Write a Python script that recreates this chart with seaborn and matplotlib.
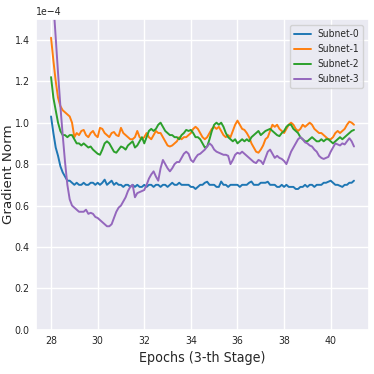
import numpy as np
import pandas as pd
import matplotlib
matplotlib.use("Agg")
import matplotlib.pyplot as plt
import seaborn as sns

epochs = np.round(np.arange(28.0, 41.0001, 0.1), 1)

subnet0 = [
    1.03, 0.95, 0.88, 0.84, 0.79, 0.76, 0.74, 0.72, 0.72, 0.71,
    0.70, 0.71, 0.70, 0.70, 0.71, 0.70, 0.70, 0.71, 0.71, 0.70,
    0.71, 0.70, 0.71, 0.725, 0.70, 0.71, 0.72, 0.70, 0.71, 0.70,
    0.70, 0.69, 0.70, 0.70, 0.69, 0.70, 0.69, 0.70, 0.69, 0.69,
    0.70, 0.69, 0.70, 0.70, 0.69, 0.70, 0.70, 0.69, 0.70, 0.70,
    0.69, 0.70, 0.71, 0.70, 0.70, 0.71, 0.70, 0.70, 0.70, 0.70,
    0.69, 0.69, 0.68, 0.69, 0.70, 0.70, 0.71, 0.715, 0.70, 0.70,
    0.70, 0.69, 0.69, 0.716, 0.70, 0.70, 0.69, 0.70, 0.70, 0.70,
    0.70, 0.69, 0.70, 0.70, 0.70, 0.71, 0.716, 0.70, 0.70, 0.70,
    0.71, 0.71, 0.71, 0.715, 0.70, 0.70, 0.70, 0.69, 0.69, 0.70,
    0.69, 0.70, 0.69, 0.69, 0.69, 0.68, 0.68, 0.69, 0.69, 0.70,
    0.69, 0.70, 0.70, 0.69, 0.70, 0.70, 0.70, 0.71, 0.71, 0.715,
    0.72, 0.71, 0.70, 0.70, 0.695, 0.69, 0.70, 0.70, 0.71, 0.71,
    0.72,
]

subnet1 = [
    1.41, 1.30, 1.20, 1.12, 1.08, 1.06, 1.05, 1.04, 1.03, 1.00,
    0.93, 0.95, 0.94, 0.96, 0.965, 0.94, 0.93, 0.95, 0.96, 0.94,
    0.93, 0.975, 0.97, 0.95, 0.94, 0.93, 0.95, 0.955, 0.94, 0.935,
    0.975, 0.95, 0.94, 0.93, 0.92, 0.92, 0.93, 0.96, 0.93, 0.92,
    0.93, 0.95, 0.93, 0.92, 0.94, 0.96, 0.95, 0.95, 0.93, 0.91,
    0.89, 0.885, 0.89, 0.90, 0.91, 0.93, 0.92, 0.93, 0.93, 0.94,
    0.95, 0.97, 0.98, 0.97, 0.95, 0.93, 0.92, 0.93, 0.95, 0.97,
    0.98, 0.97, 0.98, 0.96, 0.94, 0.93, 0.94, 0.93, 0.96, 0.99,
    1.01, 0.99, 0.97, 0.965, 0.95, 0.93, 0.90, 0.88, 0.86, 0.855,
    0.87, 0.89, 0.92, 0.93, 0.96, 0.99, 0.98, 0.99, 0.97, 0.96,
    0.95, 0.97, 0.99, 1.00, 0.99, 0.97, 0.96, 0.97, 0.99, 0.98,
    0.99, 1.00, 0.99, 0.97, 0.96, 0.95, 0.95, 0.94, 0.93, 0.92,
    0.92, 0.93, 0.95, 0.96, 0.95, 0.96, 0.97, 0.99, 1.005, 1.00,
    0.99,
]

subnet2 = [
    1.22, 1.12, 1.06, 1.00, 0.96, 0.94, 0.94, 0.93, 0.94, 0.94,
    0.92, 0.90, 0.90, 0.89, 0.90, 0.89, 0.88, 0.885, 0.87, 0.86,
    0.85, 0.845, 0.87, 0.90, 0.91, 0.90, 0.88, 0.86, 0.855, 0.87,
    0.885, 0.88, 0.87, 0.89, 0.90, 0.91, 0.88, 0.89, 0.91, 0.93,
    0.90, 0.93, 0.96, 0.97, 0.96, 0.97, 0.99, 1.00, 0.98, 0.96,
    0.95, 0.94, 0.94, 0.93, 0.93, 0.92, 0.94, 0.95, 0.965, 0.96,
    0.965, 0.95, 0.93, 0.93, 0.92, 0.90, 0.88, 0.885, 0.92, 0.96,
    0.99, 1.00, 0.99, 1.00, 0.98, 0.95, 0.93, 0.92, 0.91, 0.92,
    0.90, 0.91, 0.92, 0.91, 0.92, 0.91, 0.93, 0.94, 0.95, 0.96,
    0.94, 0.95, 0.96, 0.965, 0.97, 0.96, 0.95, 0.94, 0.935, 0.95,
    0.96, 0.98, 0.99, 0.99, 0.97, 0.96, 0.95, 0.93, 0.92, 0.91,
    0.91, 0.92, 0.93, 0.92, 0.91, 0.91, 0.92, 0.91, 0.92, 0.92,
    0.91, 0.90, 0.91, 0.92, 0.93, 0.92, 0.93, 0.94, 0.95, 0.96,
    0.965,
]

subnet3 = [
    1.75, 1.58, 1.41, 1.24, 1.08, 0.94, 0.81, 0.70, 0.63, 0.60,
    0.59, 0.58, 0.57, 0.57, 0.57, 0.58, 0.56, 0.565, 0.56, 0.545,
    0.54, 0.53, 0.52, 0.51, 0.50, 0.50, 0.51, 0.54, 0.57, 0.59,
    0.60, 0.62, 0.64, 0.67, 0.69, 0.70, 0.64, 0.66, 0.665, 0.67,
    0.675, 0.70, 0.73, 0.75, 0.765, 0.74, 0.72, 0.78, 0.82, 0.80,
    0.78, 0.765, 0.78, 0.80, 0.81, 0.81, 0.83, 0.85, 0.86, 0.85,
    0.82, 0.81, 0.83, 0.845, 0.85, 0.86, 0.87, 0.885, 0.90, 0.89,
    0.87, 0.86, 0.855, 0.85, 0.845, 0.845, 0.84, 0.80, 0.82, 0.845,
    0.855, 0.85, 0.86, 0.85, 0.84, 0.83, 0.82, 0.81, 0.805, 0.82,
    0.815, 0.80, 0.83, 0.86, 0.87, 0.85, 0.83, 0.84, 0.83, 0.825,
    0.815, 0.80, 0.83, 0.86, 0.88, 0.90, 0.92, 0.93, 0.92, 0.905,
    0.90, 0.89, 0.885, 0.87, 0.86, 0.84, 0.83, 0.825, 0.83, 0.835,
    0.86, 0.88, 0.90, 0.895, 0.89, 0.90, 0.895, 0.91, 0.925, 0.91,
    0.885,
]

series_names = ["Subnet-0", "Subnet-1", "Subnet-2", "Subnet-3"]
series_values = [subnet0, subnet1, subnet2, subnet3]
x_ticks = [28, 30, 32, 34, 36, 38, 40]

frames = []
for name, vals in zip(series_names, series_values):
    frames.append(pd.DataFrame({"epoch": epochs,
                                "norm": np.array(vals) * 1e-4,
                                "subnet": name}))
df = pd.concat(frames, ignore_index=True)

sns.set_theme(style="darkgrid")
plt.rcParams["font.family"] = ["DejaVu Sans"]

fig = plt.figure(figsize=(3.74, 3.74), dpi=100)
ax = fig.add_axes([0.096, 0.118, 0.891, 0.831])
sns.lineplot(data=df, x="epoch", y="norm", hue="subnet",
             palette=["#1f77b4", "#ff7f0e", "#2ca02c", "#9467bd"],
             linewidth=1.4, ax=ax)
ax.set_ylim(0, 1.5e-4)
ax.set_xticks(x_ticks)
ax.ticklabel_format(axis="y", style="sci", scilimits=(0, 0))
ax.set_xlabel("Epochs (3-th Stage)", fontsize=10.2, fontstretch="condensed")
ax.xaxis.set_label_coords(0.5, -0.068)
ax.set_ylabel("Gradient Norm", fontsize=9.6)
ax.yaxis.set_label_coords(-0.064, 0.5)
ax.tick_params(length=0, pad=4.5)
for lab in ax.get_xticklabels() + ax.get_yticklabels():
    lab.set_fontstretch("condensed")
    lab.set_fontsize(7.6)
fig.canvas.draw()
ax.yaxis.get_offset_text().set_fontsize(7.6)
ax.yaxis.get_offset_text().set_fontstretch("condensed")
leg = ax.legend(loc="upper right", prop={"size": 7.3, "stretch": "condensed"},
                frameon=True, handlelength=1.7, labelspacing=0.5,
                handletextpad=0.6, borderaxespad=0.6)
fig.savefig("out.png", dpi=100)
